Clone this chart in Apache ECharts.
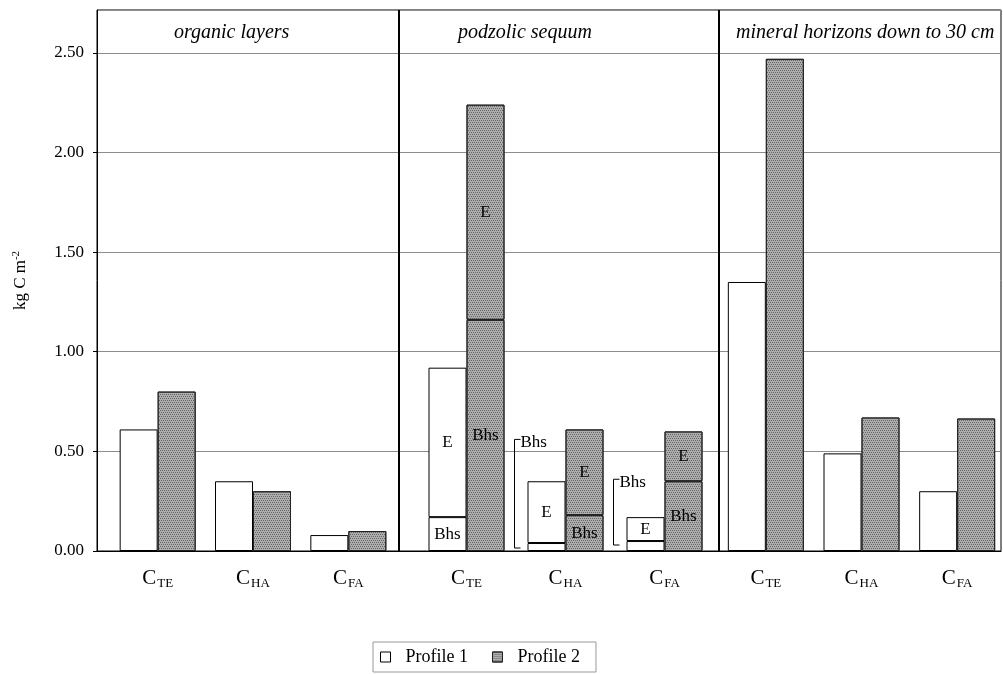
<!DOCTYPE html>
<html>
<head>
<meta charset="utf-8">
<title>kg C m-2</title>
<script src="https://cdn.jsdelivr.net/npm/echarts@6/dist/echarts.min.js"></script>
<style>
  html, body { margin: 0; padding: 0; background: #fff; }
  #chart { width: 1003px; height: 674px; }
</style>
</head>
<body>
<div id="chart"></div>
<script>
// categories (subscripts of C)
var fractions = ['TE', 'HA', 'FA'];
var panelTitles = ['organic layers', 'podzolic sequum', 'mineral horizons down to 30 cm'];

// organic layers
var orgP1 = [0.61, 0.35, 0.08];
var orgP2 = [0.80, 0.30, 0.10];

// podzolic sequum, stacked: Bhs at bottom, E on top
var podP1Bhs = [0.17, 0.04, 0.05];
var podP1E = [0.75, 0.31, 0.12];
var podP2Bhs = [1.16, 0.18, 0.35];
var podP2E = [1.08, 0.43, 0.25];
var podP1BhsLbl = ['Bhs', '', ''];
var podP1ELbl = ['E', 'E', 'E'];
var podP2BhsLbl = ['Bhs', 'Bhs', 'Bhs'];
var podP2ELbl = ['E', 'E', 'E'];

// brackets marking Bhs of profile 1: [category, top, bottom]
var bhsBrackets = [[1, 0.56, 0.015], [2, 0.36, 0.03]];

// mineral horizons down to 30 cm
var minP1 = [1.35, 0.49, 0.30];
var minP2 = [2.47, 0.67, 0.665];

var yTicks = { min: 0, max: 2.715, interval: 0.5 };

var FONT = '"Liberation Serif", "Times New Roman", serif';

var myChart = echarts.init(document.getElementById('chart'));

var p1Style = { color: '#ffffff', borderColor: '#000', borderWidth: 1 };
var p2Style = {
    color: '#adadad', borderColor: '#222', borderWidth: 1,
    decal: {
        symbol: 'rect', symbolSize: 1, color: '#666666',
        dashArrayX: [[1, 1], [0, 1, 1, 0]], dashArrayY: [1, 1]
    }
};

function withLabels(vals, lbls) {
    return vals.map(function (v, i) {
        return {
            value: v,
            label: { show: lbls[i] !== '', formatter: lbls[i] }
        };
    });
}

var segLabel = { position: 'inside', color: '#000', fontFamily: FONT, fontSize: 17 };

function barSeries(name, data, axis, stack, style) {
    var s = {
        name: name, type: 'bar', data: data,
        xAxisIndex: axis, yAxisIndex: axis,
        barWidth: 38, barGap: '0%',
        itemStyle: style, label: segLabel,
        emphasis: { disabled: true }, animation: false
    };
    if (stack) s.stack = stack;
    return s;
}

// frame grid + one bar grid per panel
var grids = [
    { left: 97, top: 10, width: 904, height: 541, show: true, borderColor: '#000', borderWidth: 1, outerBoundsMode: 'none' },
    { left: 110, top: 10, width: 286, height: 541, outerBoundsMode: 'none' },
    { left: 417, top: 10, width: 297, height: 541, outerBoundsMode: 'none' },
    { left: 718, top: 10, width: 287, height: 541, outerBoundsMode: 'none' }
];

var catAxis = function (idx) {
    return {
        type: 'category', gridIndex: idx, data: fractions,
        axisLine: { show: false }, axisTick: { show: false },
        axisLabel: {
            margin: 15,
            formatter: function (v) { return '{c|C}{s|' + v + '}'; },
            rich: {
                c: { fontFamily: FONT, fontSize: 21, color: '#000', lineHeight: 24 },
                s: { fontFamily: FONT, fontSize: 13, color: '#000', lineHeight: 13, verticalAlign: 'bottom', padding: [0, 0, 0, 1] }
            }
        }
    };
};

var xAxes = [{
    type: 'value', gridIndex: 0, min: 0, max: 1,
    axisLine: { show: true, lineStyle: { color: '#000' } },
    axisTick: { show: false }, axisLabel: { show: false }, splitLine: { show: false }
}, catAxis(1), catAxis(2), catAxis(3)];

var yAxes = [{
    type: 'value', gridIndex: 0, min: yTicks.min, max: yTicks.max, interval: yTicks.interval,
    name: '{a|kg C m}{b|-2}', nameLocation: 'middle', nameGap: 66,
    nameTextStyle: {
        rich: {
            a: { fontFamily: FONT, fontSize: 17, color: '#000', lineHeight: 20 },
            b: { fontFamily: FONT, fontSize: 11, color: '#000', lineHeight: 11, verticalAlign: 'top' }
        }
    },
    axisLine: { show: true, lineStyle: { color: '#000' } },
    axisTick: { show: true, length: 4, lineStyle: { color: '#000' } },
    axisLabel: {
        color: '#000', fontFamily: FONT, fontSize: 17, margin: 13, showMaxLabel: false,
        formatter: function (v) { return v.toFixed(2); }
    },
    splitLine: { show: true, lineStyle: { color: '#8c8c8c', width: 1 } }
}];
[1, 2, 3].forEach(function (i) {
    yAxes.push({ type: 'value', gridIndex: i, min: yTicks.min, max: yTicks.max, show: false, splitLine: { show: false } });
});

var series = [
    barSeries('Profile 1', orgP1, 1, null, p1Style),
    barSeries('Profile 2', orgP2, 1, null, p2Style),
    barSeries('Profile 1', withLabels(podP1Bhs, podP1BhsLbl), 2, 'p1', p1Style),
    barSeries('Profile 1', withLabels(podP1E, podP1ELbl), 2, 'p1', p1Style),
    barSeries('Profile 2', withLabels(podP2Bhs, podP2BhsLbl), 2, 'p2', p2Style),
    barSeries('Profile 2', withLabels(podP2E, podP2ELbl), 2, 'p2', p2Style),
    barSeries('Profile 1', minP1, 3, null, p1Style),
    barSeries('Profile 2', minP2, 3, null, p2Style),
    {
        type: 'custom', xAxisIndex: 2, yAxisIndex: 2, data: bhsBrackets,
        encode: { x: 0, y: [1, 2] }, silent: true, animation: false, z: 5,
        renderItem: function (params, api) {
            var top = api.coord([api.value(0), api.value(1)]);
            var bot = api.coord([api.value(0), api.value(2)]);
            var x = Math.round(top[0] - api.size([1, 0])[0] / 2) - 1.5;
            return {
                type: 'group', children: [{
                    type: 'polyline',
                    shape: { points: [[x + 6, top[1]], [x, top[1]], [x, bot[1]], [x + 6, bot[1]]] },
                    style: { stroke: '#000', fill: null, lineWidth: 1 }
                }, {
                    type: 'text', x: x + 6, y: top[1] + 3,
                    style: { text: 'Bhs', fill: '#000', font: '17px ' + FONT, align: 'left', verticalAlign: 'middle' }
                }]
            };
        }
    }
];

var titleLeft = [174, 458, 736];
var titles = panelTitles.map(function (t, i) {
    return {
        text: t, left: titleLeft[i], top: 23, padding: 0,
        textStyle: { fontFamily: FONT, fontStyle: 'italic', fontWeight: 'normal', fontSize: 20, color: '#000' }
    };
});

myChart.setOption({
    animation: false,
    title: titles,
    grid: grids,
    xAxis: xAxes,
    yAxis: yAxes,
    legend: {
        data: ['Profile 1', 'Profile 2'],
        icon: 'rect',
        left: 373, top: 642,
        padding: [6, 16, 6, 7],
        borderColor: '#999', borderWidth: 1,
        itemWidth: 10, itemHeight: 10, itemGap: 24,
        itemStyle: { borderWidth: 1 },
        selectedMode: false,
        textStyle: { fontFamily: FONT, fontSize: 18, color: '#000', padding: [0, 0, 0, 10] }
    },
    graphic: [
        { type: 'line', shape: { x1: 399, y1: 10, x2: 399, y2: 551 }, style: { stroke: '#000', lineWidth: 2 }, z: 10 },
        { type: 'line', shape: { x1: 719, y1: 10, x2: 719, y2: 551 }, style: { stroke: '#000', lineWidth: 2 }, z: 10 }
    ],
    series: series
});
</script>
</body>
</html>
